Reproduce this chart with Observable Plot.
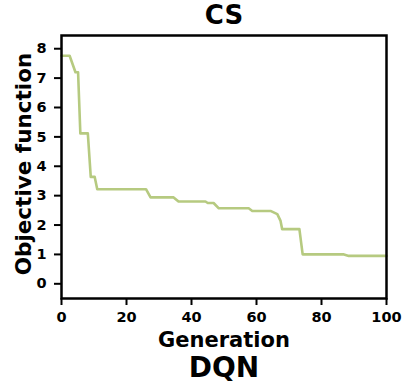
<!DOCTYPE html>
<html>
<head>
<meta charset="utf-8">
<script src="https://cdn.jsdelivr.net/npm/d3@7"></script>
<script src="https://cdn.jsdelivr.net/npm/@observablehq/plot@0.6"></script>
<style>
  html, body { margin: 0; padding: 0; background: #fff; }
</style>
</head>
<body>
<div id="chart"></div>
<script>
const title = "CS";
const subtitle = "DQN";
const xLabel = "Generation";
const yLabel = "Objective function";
const xTicks = [0, 20, 40, 60, 80, 100];
const yTicks = [0, 1, 2, 3, 4, 5, 6, 7, 8];
const generation = [0, 2.5, 4.3, 5.1, 5.8, 8.1, 9.0, 10.2, 11.0, 26.0, 27.4, 34.5, 36.0, 44.3, 45.0, 46.8, 48.4, 57.6, 58.7, 64.3, 66.4, 67.4, 67.9, 73.2, 74.2, 86.9, 88.4, 100];
const objective = [7.76, 7.76, 7.2, 7.2, 5.12, 5.12, 3.64, 3.64, 3.22, 3.22, 2.94, 2.94, 2.8, 2.8, 2.75, 2.75, 2.57, 2.57, 2.48, 2.48, 2.37, 2.14, 1.86, 1.86, 1.0, 1.0, 0.95, 0.95];

const data = generation.map((g, i) => ({g, v: objective[i]}));

const chart = Plot.plot({
  width: 402,
  height: 385,
  marginLeft: 61,
  marginRight: 16,
  marginTop: 35,
  marginBottom: 87,
  style: {fontFamily: "DejaVu Sans", fontWeight: "bold", background: "#fff", color: "#000"},
  x: {domain: [0, 100]},
  y: {domain: [-0.5, 8.45]},
  marks: [
    Plot.line(data, {x: "g", y: "v", stroke: "#b6ca80", strokeWidth: 2.6, curve: "linear"}),
    Plot.frame({stroke: "#000", strokeWidth: 2.5}),
    Plot.axisX({ticks: xTicks, tickSize: 7, tickPadding: 6, fontSize: 14.5, fontWeight: "bold", label: null, strokeWidth: 2, tickFormat: d => String(d)}),
    Plot.axisY({ticks: yTicks, tickSize: 7, tickPadding: 8, fontSize: 14.5, fontWeight: "bold", label: null, strokeWidth: 2, tickFormat: d => String(d)}),
    Plot.text([xLabel], {frameAnchor: "bottom", dy: 42, fontSize: 21, fontWeight: "bold", lineAnchor: "middle"}),
    Plot.text([subtitle], {frameAnchor: "bottom", dy: 70, fontSize: 28, fontWeight: "bold", lineAnchor: "middle"}),
    Plot.text([title], {frameAnchor: "top", dy: -20, fontSize: 26, fontWeight: "bold", lineAnchor: "middle"}),
    Plot.text([yLabel], {frameAnchor: "left", dx: -37, dy: -3, rotate: -90, textAnchor: "middle", fontSize: 21.5, fontWeight: "bold", lineAnchor: "middle"})
  ]
});
document.getElementById("chart").appendChild(chart);
</script>
</body>
</html>
